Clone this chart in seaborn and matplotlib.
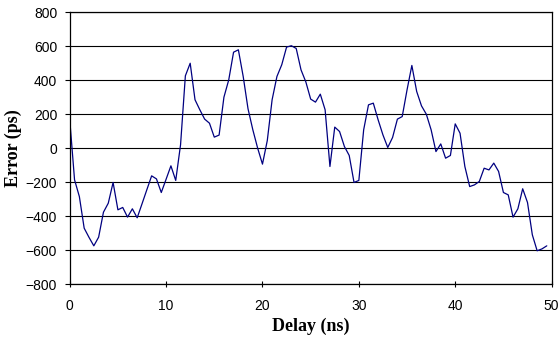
import numpy as np
import pandas as pd
import seaborn as sns
import matplotlib
matplotlib.use("Agg")
import matplotlib.pyplot as plt

# delay samples every 0.5 ns
delay_ns = np.arange(0, 50, 0.5)
error_ps = [
    170, -186, -285, -471, -525, -575, -524, -377, -324, -202,
    -363, -349, -406, -357, -410, -328, -245, -163, -181, -261,
    -183, -104, -190, 20, 426, 500, 285, 226, 171, 147,
    65, 77, 300, 402, 565, 579, 422, 232, 108, 0,
    -94, 45, 285, 422, 491, 595, 603, 587, 461, 390,
    289, 271, 318, 226, -108, 124, 98, 10, -43, -202,
    -190, 108, 255, 265, 167, 78, 4, 63, 171, 186,
    343, 487, 334, 249, 200, 108, -20, 25, -59, -43,
    143, 88, -108, -226, -216, -196, -118, -128, -88, -137,
    -261, -275, -406, -357, -239, -320, -510, -604, -593, -575,
]

df = pd.DataFrame({"delay": delay_ns, "error": error_ps})

sns.set_style("white")
plt.rcParams['font.family'] = ['Liberation Sans', 'DejaVu Sans']

fig = plt.figure(figsize=(5.6, 3.41), dpi=100)
ax = fig.add_axes([0.1245, 0.167, 0.8605, 0.797])

sns.lineplot(data=df, x="delay", y="error", color="#000080", linewidth=0.9, ax=ax)

ax.set_xlim(0, 50)
ax.set_ylim(-800, 800)
ax.set_xticks(range(0, 51, 10))
ax.set_yticks(range(-800, 801, 200))
ax.yaxis.grid(True, color="black", linewidth=0.8)
ax.set_axisbelow(True)
for s in ax.spines.values():
    s.set_color("black")
    s.set_linewidth(0.9)
ax.tick_params(axis="x", direction="inout", length=4, width=0.8, pad=8.5,
               labelsize=10, colors="black", bottom=True)
ax.tick_params(axis="y", direction="out", length=3.5, width=0.8, pad=5.5,
               labelsize=10, colors="black", left=True)

ax.set_xlabel("Delay (ns)", fontsize=13, fontweight="bold", color="black",
              family="Liberation Serif", ha="center", va="center")
ax.set_ylabel("Error (ps)", fontsize=13, fontweight="bold", color="black",
              family="Liberation Serif", ha="center", va="center")
ax.xaxis.set_label_coords(0.5, -0.155)
ax.yaxis.set_label_coords(-0.116, 0.5)

fig.savefig("out.png", dpi=100)
